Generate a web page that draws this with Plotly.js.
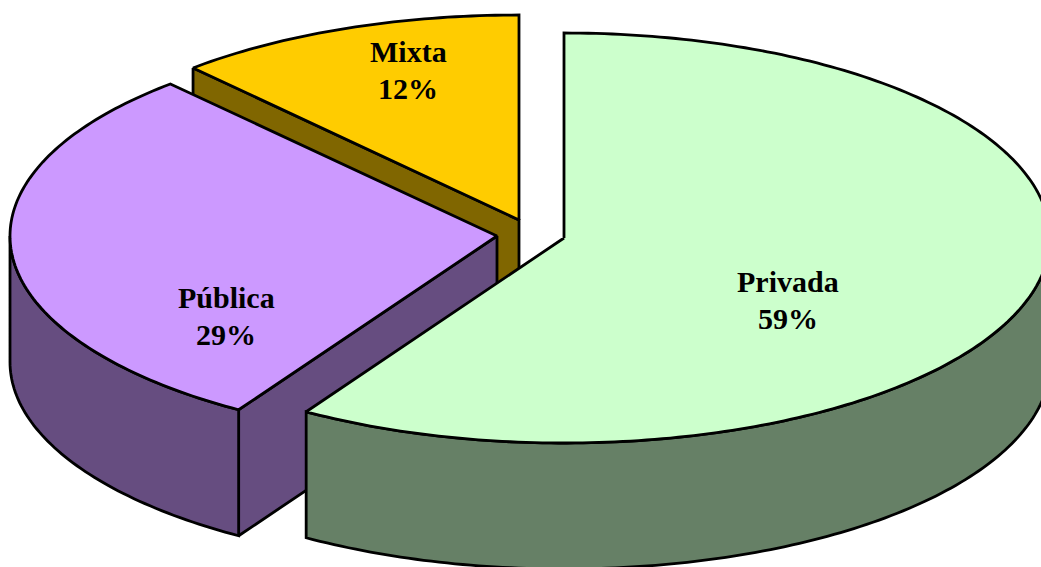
<!DOCTYPE html>
<html><head><meta charset="utf-8">
<script src="https://cdn.plot.ly/plotly-3.0.1.min.js"></script>
<style>html,body{margin:0;padding:0;background:#fff}#c{width:1041px;height:567px}</style>
</head><body><div id="c"></div>
<script>
const categories = ["Privada", "Pública", "Mixta"];
const shares = [58.9, 29.4, 11.7];
const topColors = ["#CCFFCC", "#CC99FF", "#FFCC00"];
const sideColors = ["#668066", "#664D80", "#806600"];
const apexX = [564, 497, 519];
const apexY = [238, 236, 220];
const labelX = [787.5, 226, 408];
const nameY = [281.5, 297.5, 51.5];
const pctY = [318.5, 334.5, 88.5];
const radiusX = [486, 487, 486];
const radiusY = 205;
const depth = 126;

function arc(i, a0, a1) {
  const xs = [], ys = [];
  const n = Math.max(2, Math.ceil(Math.abs(a1 - a0) * 60));
  for (let k = 0; k <= n; k++) {
    const a = a0 + (a1 - a0) * k / n;
    xs.push(apexX[i] + radiusX[i] * Math.sin(a));
    ys.push(apexY[i] - radiusY * Math.cos(a));
  }
  return [xs, ys];
}
function poly(x, y, fill) {
  return {type: "scatter", mode: "lines", x, y, fill: "toself", fillcolor: fill,
    line: {color: "#000", width: 2.8, simplify: false, shape: "linear"}, hoverinfo: "skip", showlegend: false};
}
const total = shares.reduce((a, b) => a + b, 0);
const starts = [];
let acc = 0;
shares.forEach(s => { starts.push(acc / total * 2 * Math.PI); acc += s; });
const ends = shares.map((s, i) => starts[i] + s / total * 2 * Math.PI);

const traces = [];
// painter's order: Mixta, Pública, Privada
[2, 1, 0].forEach(i => {
  const a0 = starts[i], a1 = ends[i];
  // cut face running from the slice's opening edge to the apex
  if (i !== 0) {
    const fx = apexX[i] + radiusX[i] * Math.sin(a0);
    const fy = apexY[i] - radiusY * Math.cos(a0);
    traces.push(poly([fx, apexX[i], apexX[i], fx, fx],
                     [fy, apexY[i], apexY[i] + depth, fy + depth, fy], sideColors[i]));
  }
  // outer wall: visible lower half of the rim only
  const v0 = Math.max(a0, Math.PI / 2), v1 = Math.min(a1, 3 * Math.PI / 2);
  if (v1 > v0) {
    const [ax, ay] = arc(i, v0, v1);
    traces.push(poly(ax.concat(ax.slice().reverse(), ax[0]),
                     ay.concat(ay.map(v => v + depth).reverse(), ay[0]), sideColors[i]));
  }
  // top face
  const [tx, ty] = arc(i, a0, a1);
  traces.push(poly([apexX[i]].concat(tx, apexX[i]), [apexY[i]].concat(ty, apexY[i]), topColors[i]));
});

const textFont = {family: "Liberation Serif", size: 30, color: "#000"};
const annotations = [];
categories.forEach((c, i) => {
  annotations.push({x: labelX[i], y: nameY[i], xref: "x", yref: "y", showarrow: false,
    text: "<b>" + c + "</b>", font: textFont});
  annotations.push({x: labelX[i], y: pctY[i], xref: "x", yref: "y", showarrow: false,
    text: "<b>" + Math.round(shares[i]) + "%</b>", font: textFont});
});
Plotly.newPlot("c", traces, {
  width: 1041, height: 567, margin: {l: 0, r: 0, t: 0, b: 0},
  paper_bgcolor: "#fff", plot_bgcolor: "#fff", showlegend: false,
  xaxis: {range: [0, 1041], visible: false, fixedrange: true},
  yaxis: {range: [567, 0], visible: false, fixedrange: true},
  annotations
}, {displayModeBar: false, staticPlot: true});
</script></body></html>
